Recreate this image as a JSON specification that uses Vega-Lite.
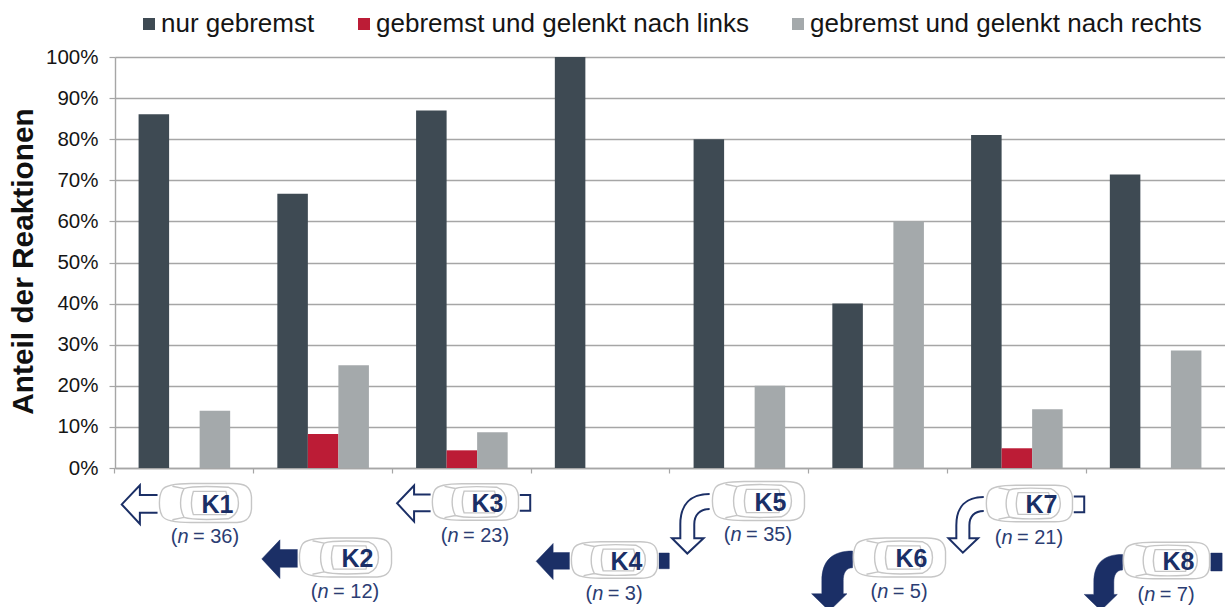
{
"$schema":"https://vega.github.io/schema/vega-lite/v6.json",
"width":1110,"height":411,
"autosize":{"type":"none"},
"padding":{"left":115,"top":57,"right":0,"bottom":139},
"background":"white",
"params":[
{"name":"vx","value":{"K1":20.6,"K2":21.9,"K3":13.1,"K4":13.4,"K5":18.6,"K6":20.9,"K7":12.1,"K8":10.4}},
{"name":"vy","value":{"K1":35,"K2":89.5,"K3":34,"K4":92,"K5":33,"K6":89.5,"K7":35.5,"K8":92.5}}
],
"datasets":{
"balken":[
{"k":"K1","reaktion":"nur gebremst","anteil":86.1},{"k":"K1","reaktion":"gebremst und gelenkt nach links","anteil":0},{"k":"K1","reaktion":"gebremst und gelenkt nach rechts","anteil":13.9},
{"k":"K2","reaktion":"nur gebremst","anteil":66.7},{"k":"K2","reaktion":"gebremst und gelenkt nach links","anteil":8.3},{"k":"K2","reaktion":"gebremst und gelenkt nach rechts","anteil":25},
{"k":"K3","reaktion":"nur gebremst","anteil":87},{"k":"K3","reaktion":"gebremst und gelenkt nach links","anteil":4.3},{"k":"K3","reaktion":"gebremst und gelenkt nach rechts","anteil":8.7},
{"k":"K4","reaktion":"nur gebremst","anteil":100},{"k":"K4","reaktion":"gebremst und gelenkt nach links","anteil":0},{"k":"K4","reaktion":"gebremst und gelenkt nach rechts","anteil":0},
{"k":"K5","reaktion":"nur gebremst","anteil":80},{"k":"K5","reaktion":"gebremst und gelenkt nach links","anteil":0},{"k":"K5","reaktion":"gebremst und gelenkt nach rechts","anteil":20},
{"k":"K6","reaktion":"nur gebremst","anteil":40},{"k":"K6","reaktion":"gebremst und gelenkt nach links","anteil":0},{"k":"K6","reaktion":"gebremst und gelenkt nach rechts","anteil":60},
{"k":"K7","reaktion":"nur gebremst","anteil":81},{"k":"K7","reaktion":"gebremst und gelenkt nach links","anteil":4.8},{"k":"K7","reaktion":"gebremst und gelenkt nach rechts","anteil":14.3},
{"k":"K8","reaktion":"nur gebremst","anteil":71.4},{"k":"K8","reaktion":"gebremst und gelenkt nach links","anteil":0},{"k":"K8","reaktion":"gebremst und gelenkt nach rechts","anteil":28.6}
],
"szenarien":[
{"k":"K1","n":36,"rest":"= 36)","form":"gerade","voll":false,"bremse":false},
{"k":"K2","n":12,"rest":"= 12)","form":"gerade","voll":true,"bremse":false},
{"k":"K3","n":23,"rest":"= 23)","form":"gerade_bremse","voll":false,"bremse":true},
{"k":"K4","n":3,"rest":"= 3)","form":"gerade_bremse","voll":true,"bremse":true},
{"k":"K5","n":35,"rest":"= 35)","form":"kurve","voll":false,"bremse":false},
{"k":"K6","n":5,"rest":"= 5)","form":"kurve_voll","voll":true,"bremse":false},
{"k":"K7","n":21,"rest":"= 21)","form":"kurve_bremse","voll":false,"bremse":true},
{"k":"K8","n":7,"rest":"= 7)","form":"kurve_voll_bremse","voll":true,"bremse":true}
]},
"layer":[
{"data":{"name":"balken"},
"mark":{"type":"bar"},
"encoding":{
"x":{"field":"k","type":"nominal","sort":null,"title":null,
"scale":{"domain":["K1","K2","K3","K4","K5","K6","K7","K8"],"paddingInner":0.34,"paddingOuter":0.17},
"axis":{"labels":false,"title":null,"bandPosition":-0.2576,"domainColor":"#a6a6a6","domainWidth":1.4,"tickColor":"#a6a6a6","tickSize":5,"tickWidth":1.2}},
"xOffset":{"field":"reaktion","type":"nominal","sort":["nur gebremst","gebremst und gelenkt nach links","gebremst und gelenkt nach rechts"],"scale":{"paddingInner":0,"paddingOuter":0}},
"y":{"field":"anteil","type":"quantitative","stack":null,"scale":{"domain":[0,100],"nice":false},
"axis":{"values":[0,10,20,30,40,50,60,70,80,90,100],"labelExpr":"datum.value+'%'","grid":true,"gridColor":"#a6a6a6","gridWidth":1.3,"domainColor":"#a6a6a6","domainWidth":1.4,"tickColor":"#a6a6a6","tickSize":6,"tickWidth":1.2,"labelFontSize":20.5,"labelColor":"#151515","labelFont":"Liberation Sans","labelPadding":11,"title":"Anteil der Reaktionen","titleFont":"Liberation Sans","titleFontSize":29.8,"titleFontWeight":"bold","titleColor":"#111111","titleX":-77,"titleY":204,"titleAnchor":"middle"}},
"color":{"field":"reaktion","type":"nominal","title":null,
"scale":{"domain":["nur gebremst","gebremst und gelenkt nach links","gebremst und gelenkt nach rechts"],"range":["#3e4a53","#bc1c36","#a4a9ab"]},
"legend":{"orient":"none","legendX":21,"legendY":-46,"direction":"horizontal","columns":3,"symbolType":"square","symbolSize":144,"symbolStrokeWidth":0,"symbolOpacity":1,"labelFont":"Liberation Sans","labelFontSize":26,"labelColor":"#151515","labelOffset":-1,"labelLimit":500,"columnPadding":36,"padding":0,"title":null}}
}},
{"data":{"name":"szenarien"},"transform":[{"filter":"!datum.voll"}],
"mark":{"type":"point","filled":false,"stroke":"#1b2f66","strokeWidth":2,"opacity":1,"size":{"expr":"datum.bremse?7569:8649"},"xOffset":{"expr":"vx[datum.k]"},"yOffset":{"expr":"vy[datum.k]"}},
"encoding":{"x":{"field":"k","type":"nominal"},"y":{"datum":0,"type":"quantitative"},
"shape":{"field":"form","type":"nominal","legend":null,"scale":{"domain":["gerade","gerade_bremse","kurve","kurve_bremse","kurve_voll","kurve_voll_bremse"],"range":[
"M-1.02,-.17 L-1.4,-.17 L-1.4,-.38 L-1.79,.03 L-1.4,.45 L-1.4,.21 L-1.02,.21",
"M-1.02,-.17 L-1.4,-.17 L-1.4,-.38 L-1.79,.03 L-1.4,.45 L-1.4,.21 L-1.02,.21 M1.03,-.16 L1.27,-.16 L1.27,.2 L1.03,.2",
"M-1.04,-.15 C-1.45,-.15 -1.67,.08 -1.67,.5 L-1.67,.8 L-1.85,.8 L-1.52,1.13 L-1.17,.8 L-1.37,.8 L-1.37,.5 C-1.37,.3 -1.25,.17 -1.04,.17",
"M-1.04,-.15 C-1.45,-.15 -1.67,.08 -1.67,.5 L-1.67,.8 L-1.85,.8 L-1.52,1.13 L-1.17,.8 L-1.37,.8 L-1.37,.5 C-1.37,.3 -1.25,.17 -1.04,.17 M1.03,-.16 L1.27,-.16 L1.27,.2 L1.03,.2",
"M-1,-.14 C-1.45,-.14 -1.66,.08 -1.66,.5 L-1.66,.78 L-1.88,.78 L-1.5,1.15 L-1.12,.78 L-1.2,.78 L-1.2,.5 C-1.2,.35 -1.15,.22 -1,.22 Z",
"M-1,-.14 C-1.45,-.14 -1.66,.08 -1.66,.5 L-1.66,.78 L-1.88,.78 L-1.5,1.15 L-1.12,.78 L-1.2,.78 L-1.2,.5 C-1.2,.35 -1.15,.22 -1,.22 Z M1.03,-.17 L1.29,-.17 L1.29,.24 L1.03,.24 Z"
]}}}},
{"data":{"name":"szenarien"},"transform":[{"filter":"datum.voll"}],
"mark":{"type":"point","filled":true,"fill":"#1b2f66","stroke":"#1b2f66","strokeWidth":0.5,"opacity":1,"size":{"expr":"datum.bremse?7569:8649"},"xOffset":{"expr":"vx[datum.k]"},"yOffset":{"expr":"vy[datum.k]"}},
"encoding":{"x":{"field":"k","type":"nominal"},"y":{"datum":0,"type":"quantitative"},
"shape":{"field":"form","type":"nominal","legend":null}}},
{"data":{"name":"szenarien"},
"mark":{"type":"point","filled":true,"fill":"#ffffff","stroke":"#c6c6c6","strokeWidth":1.4,"opacity":1,"shape":"M-.92,-.28 C-.85,-.4 -.6,-.42 -.3,-.42 L.6,-.42 C.85,-.42 .98,-.36 1,-.13 L1,.13 C.98,.36 .85,.42 .6,.42 L-.3,.42 C-.6,.42 -.85,.4 -.92,.28 C-1,.14 -1,-.14 -.92,-.28 Z M-.45,-.31 C-.3,-.36 .1,-.36 .5,-.34 C.68,-.27 .72,-.13 .72,0 C.72,.13 .68,.27 .5,.34 C.1,.36 -.3,.36 -.45,.31 C-.55,.13 -.55,-.13 -.45,-.31 Z M-.25,-.25 C-.3,-.1 -.3,.1 -.25,.25 L.45,.25 C.5,.1 .5,-.1 .45,-.25 Z M-.7,-.36 L-.45,-.31 M-.7,.36 L-.45,.31","size":{"expr":"datum.bremse?7569:8649"},"xOffset":{"expr":"vx[datum.k]"},"yOffset":{"expr":"vy[datum.k]"}},
"encoding":{"x":{"field":"k","type":"nominal"},"y":{"datum":0,"type":"quantitative"}}},
{"data":{"name":"szenarien"},
"mark":{"type":"text","font":"Liberation Sans","fontWeight":"bold","fontSize":25,"fill":"#1b2f66","align":"center","baseline":"middle","xOffset":{"expr":"vx[datum.k]+12.5"},"yOffset":{"expr":"vy[datum.k]+1.5"}},
"encoding":{"x":{"field":"k","type":"nominal"},"y":{"datum":0,"type":"quantitative"},"text":{"field":"k"}}},
{"data":{"name":"szenarien"},
"mark":{"type":"text","text":"(","font":"Liberation Sans","fontSize":20,"fill":"#2b3d73","align":"left","baseline":"middle","xOffset":{"expr":"vx[datum.k]+(datum.n>=10?-34.2:-28.6)"},"yOffset":{"expr":"vy[datum.k]+34"}},
"encoding":{"x":{"field":"k","type":"nominal"},"y":{"datum":0,"type":"quantitative"}}},
{"data":{"name":"szenarien"},
"mark":{"type":"text","text":"n","font":"Liberation Sans","fontStyle":"italic","fontSize":20,"fill":"#2b3d73","align":"left","baseline":"middle","xOffset":{"expr":"vx[datum.k]+(datum.n>=10?-27.5:-21.9)"},"yOffset":{"expr":"vy[datum.k]+34"}},
"encoding":{"x":{"field":"k","type":"nominal"},"y":{"datum":0,"type":"quantitative"}}},
{"data":{"name":"szenarien"},
"mark":{"type":"text","font":"Liberation Sans","fontSize":20,"fill":"#2b3d73","align":"left","baseline":"middle","xOffset":{"expr":"vx[datum.k]+(datum.n>=10?-12:-6.4)"},"yOffset":{"expr":"vy[datum.k]+34"}},
"encoding":{"x":{"field":"k","type":"nominal"},"y":{"datum":0,"type":"quantitative"},"text":{"field":"rest"}}}
],
"config":{"view":{"stroke":null}}
}
